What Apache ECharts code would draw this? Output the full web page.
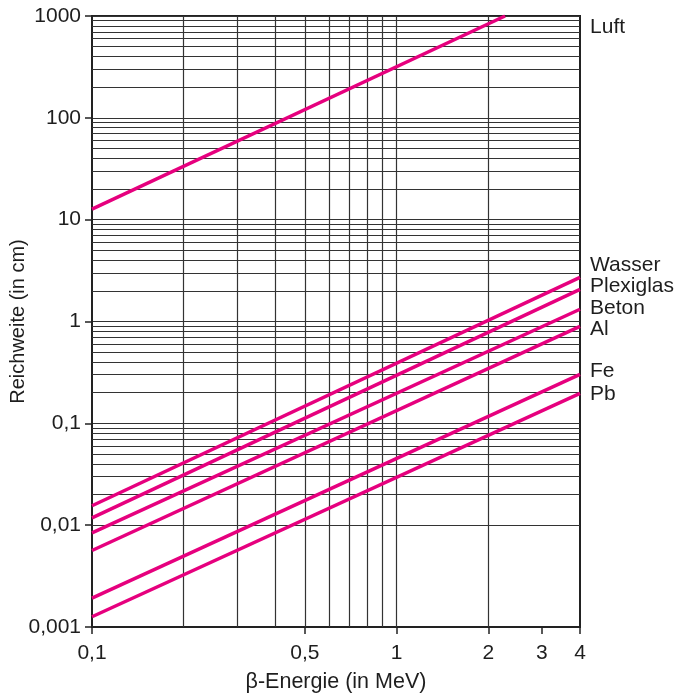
<!DOCTYPE html>
<html><head><meta charset="utf-8">
<script src="https://cdn.jsdelivr.net/npm/echarts@6/dist/echarts.min.js"></script>
<style>html,body{margin:0;padding:0;background:#fff}#c{width:676px;height:695px}</style>
</head><body><div id="c"></div>
<script>
// ---- data ----
const seriesNames = ['Luft', 'Wasser', 'Plexiglas', 'Beton', 'Al', 'Fe', 'Pb'];
const energyLuft = [0.1, 2.27];
const rangeLuft = [12.7, 1000];
const energyOthers = [0.1, 4];
const rangeWasser = [0.0155, 2.71];
const rangePlexiglas = [0.0118, 2.07];
const rangeBeton = [0.0084, 1.32];
const rangeAl = [0.00564, 0.895];
const rangeFe = [0.00192, 0.302];
const rangePb = [0.00126, 0.197];
const xTickValues = [0.1, 0.5, 1, 2, 3, 4];
const yTickValues = [0.001, 0.01, 0.1, 1, 10, 100, 1000];
const xGridValues = [0.2, 0.3, 0.4, 0.5, 0.6, 0.7, 0.8, 0.9, 1, 2];
const yMinorMultipliers = [2, 3, 4, 5, 6, 7, 8, 9];

// ---- styling ----
const FONT = '"Liberation Sans", Arial, Helvetica, sans-serif';
const TEXT = '#1e1e1e';
const GRIDC = '#333';
const MAG = '#e6007e';
const labelOffsets = {
  Luft: [77, 11], Wasser: [2, -12], Plexiglas: [2, -3], Beton: [2, -1],
  Al: [2, 3], Fe: [2, -3], Pb: [2, 1]
};

const yGridValues = [];
yTickValues.slice(0, -1).forEach(d => yMinorMultipliers.forEach(m => yGridValues.push(Number((d * m).toPrecision(6)))));

const fmt = v => String(Number(Number(v).toPrecision(6))).replace('.', ',');

const ranges = {
  Luft: rangeLuft, Wasser: rangeWasser, Plexiglas: rangePlexiglas, Beton: rangeBeton,
  Al: rangeAl, Fe: rangeFe, Pb: rangePb
};

const lineSeries = seriesNames.map(name => {
  const xs = name === 'Luft' ? energyLuft : energyOthers;
  const ys = ranges[name];
  return {
    name, type: 'line', z: 5, symbol: 'none', silent: true, animation: false,
    data: xs.map((x, i) => [x, ys[i]]),
    lineStyle: { color: MAG, width: 3.5 },
    endLabel: {
      show: true, formatter: name, color: TEXT, fontFamily: FONT, fontSize: 21,
      distance: 8, offset: labelOffsets[name]
    }
  };
});

const gridSeries = {
  type: 'line', z: 1, data: [], silent: true, animation: false,
  markLine: {
    silent: true, animation: false, symbol: ['none', 'none'],
    label: { show: false },
    lineStyle: { color: GRIDC, width: 1.2, type: 'solid' },
    emphasis: { disabled: true },
    data: xGridValues.map(v => ({ xAxis: v })).concat(yGridValues.map(v => ({ yAxis: v })))
  }
};

const chart = echarts.init(document.getElementById('c'), null, { renderer: 'canvas' });
chart.setOption({
  animation: false,
  backgroundColor: '#fff',
  textStyle: { fontFamily: FONT },
  grid: { left: 92, right: 96, top: 16, bottom: 68, containLabel: false, outerBoundsMode: 'none',
    show: true, borderColor: '#222', borderWidth: 2, backgroundColor: 'transparent' },
  xAxis: {
    type: 'log', logBase: 10, min: 0.1, max: 4,
    name: 'β-Energie (in MeV)', nameLocation: 'middle', nameGap: 44, nameMoveOverlap: false,
    nameTextStyle: { color: TEXT, fontSize: 21.5, fontFamily: FONT },
    axisLine: { show: true, lineStyle: { color: '#222', width: 2 } },
    axisTick: { show: true, customValues: xTickValues, length: 7, lineStyle: { color: '#222', width: 1.5 } },
    axisLabel: { customValues: xTickValues, formatter: fmt, color: TEXT, fontSize: 21, fontFamily: FONT, margin: 16 },
    splitLine: { show: false }, minorTick: { show: false }, minorSplitLine: { show: false }
  },
  yAxis: {
    type: 'log', logBase: 10, min: 0.001, max: 1000,
    name: 'Reichweite (in cm)', nameLocation: 'middle', nameGap: 64, nameMoveOverlap: false,
    nameTextStyle: { color: TEXT, fontSize: 20, fontFamily: FONT },
    axisLine: { show: true, lineStyle: { color: '#222', width: 2 } },
    axisTick: { show: true, customValues: yTickValues, length: 7, lineStyle: { color: '#222', width: 1.5 } },
    axisLabel: { customValues: yTickValues, formatter: fmt, color: TEXT, fontSize: 21, fontFamily: FONT, margin: 11 },
    splitLine: { show: true, lineStyle: { color: GRIDC, width: 1.2 } },
    minorTick: { show: false }, minorSplitLine: { show: false }
  },
  series: [gridSeries].concat(lineSeries)
});
</script>
</body></html>
